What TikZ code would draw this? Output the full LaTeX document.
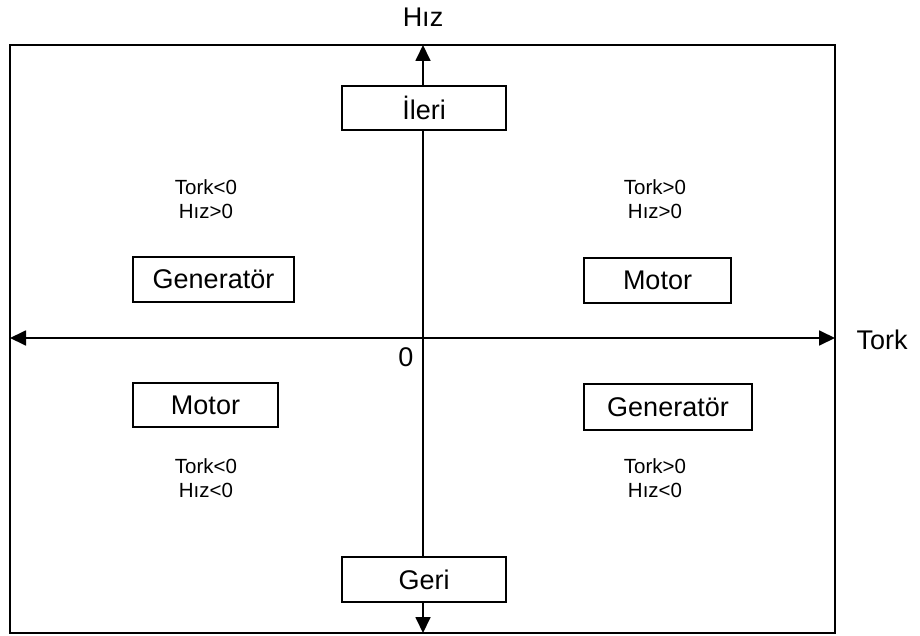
\documentclass[tikz,border=0pt]{standalone}
\usepackage{fontspec}
\setmainfont{Liberation Sans}
\usetikzlibrary{arrows.meta}
\begin{document}
\begin{tikzpicture}[x=1pt,y=-1pt,
  box/.style={draw, line width=1.6pt, fill=white, inner sep=0pt, font=\fontsize{27}{32}\selectfont},
  axis/.style={line width=1.8pt, {Triangle[length=16pt,width=15pt]}-{Triangle[length=16pt,width=15pt]}},
  cond/.style={align=center, inner sep=0pt, font=\fontsize{20.5}{24}\selectfont},
  big/.style={inner sep=0pt, font=\fontsize{27}{32}\selectfont}]
\useasboundingbox (0,0) rectangle (920,636);
\draw[line width=1.8pt] (10,45) rectangle (835,633);
\coordinate (top) at (423,45);
\coordinate (bot) at (423,633);
\coordinate (lft) at (10,338);
\coordinate (rgt) at (835,338);
\draw[axis] (lft) -- (rgt);
\draw[axis] (bot) -- (top);
\node[box, minimum width=164pt, minimum height=44pt] (ileri) at (424,108) {İleri};
\node[box, minimum width=164pt, minimum height=45pt] (geri) at (424,579.5) {Geri};
\node[box, minimum width=161pt, minimum height=45pt] (gen1) at (213.5,279.5) {Generatör};
\node[box, minimum width=147pt, minimum height=45pt] (mot1) at (657.5,280.5) {Motor};
\node[box, minimum width=145pt, minimum height=44pt] (mot2) at (205.5,405) {Motor};
\node[box, minimum width=168pt, minimum height=46pt] (gen2) at (668,407) {Generatör};
\node[cond] (c1) at (206,199) {Tork<0\\Hız>0};
\node[cond] (c2) at (655,199) {Tork>0\\Hız>0};
\node[cond] (c3) at (206,478) {Tork<0\\Hız<0};
\node[cond] (c4) at (655,478) {Tork>0\\Hız<0};
\node[big] (hiz) at (423,17) {Hız};
\node[big] (tork) at (882,340) {Tork};
\node[big] (zero) at (406,357) {0};
\end{tikzpicture}
\end{document}
